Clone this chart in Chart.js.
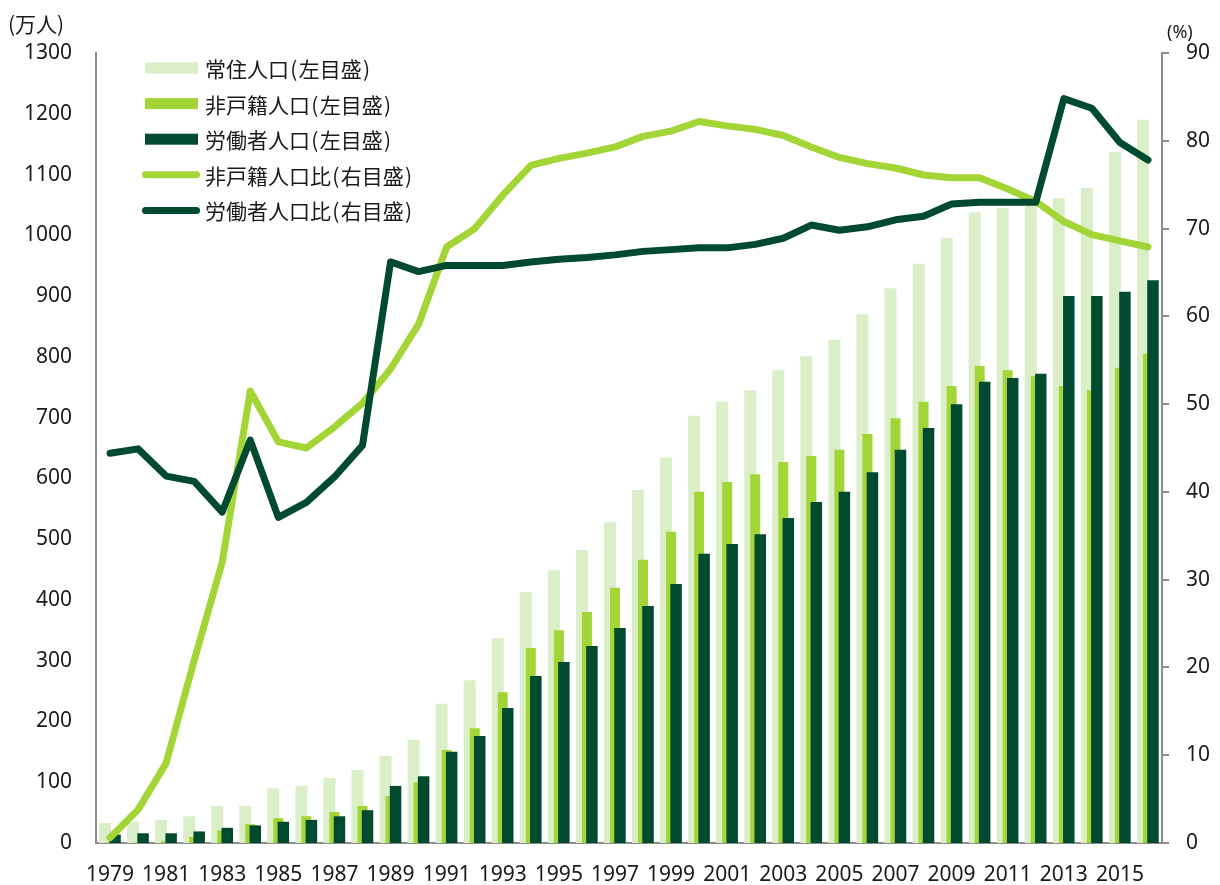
<!DOCTYPE html>
<html>
<head>
<meta charset="utf-8">
<script src="https://cdn.jsdelivr.net/npm/chart.js@4/dist/chart.umd.min.js"></script>
<style>
  html, body { margin: 0; padding: 0; background: #ffffff; }
  #wrap { width: 1220px; height: 885px; }
</style>
</head>
<body>
<div id="wrap"><canvas id="c" width="1220" height="885"></canvas></div>
<script>
// ---- data ----
const years = ['1979','1980','1981','1982','1983','1984','1985','1986','1987','1988','1989','1990',
  '1991','1992','1993','1994','1995','1996','1997','1998','1999','2000','2001','2002','2003','2004',
  '2005','2006','2007','2008','2009','2010','2011','2012','2013','2014','2015','2016'];
const xTickLabels = ['1979','1981','1983','1985','1987','1989','1991','1993','1995','1997','1999',
  '2001','2003','2005','2007','2009','2011','2013','2015'];
const residentPop = [33,35,38,44,61,61,90,94,107,120,143,170,229,268,337,413,449,482,528,581,634,703,
  726,745,778,801,828,870,913,953,996,1038,1045,1055,1061,1078,1137,1190];
const nonHukouPop = [1,1,3,10,21,31,41,44,51,61,77,100,153,189,248,321,350,380,420,466,512,578,
  594,607,627,637,647,673,699,726,752,785,778,768,752,745,782,805];
const workerPop = [14,16,16,19,25,29,35,38,44,54,94,110,150,176,222,275,298,324,354,390,426,476,
  492,508,535,561,578,610,647,683,722,759,765,772,900,900,907,926];
const nonHukouRatio = [0.6,3.8,9.1,20.8,32.0,51.5,45.7,45.0,47.4,50.1,54.0,59.1,67.9,70.0,73.8,77.2,
  78.0,78.6,79.3,80.5,81.1,82.2,81.7,81.3,80.6,79.3,78.1,77.4,76.9,76.1,75.8,75.8,74.5,73.1,70.8,69.3,68.6,67.9];
const workerRatio = [44.4,44.9,41.8,41.2,37.7,45.9,37.1,38.8,41.7,45.3,66.2,65.1,65.8,65.8,65.8,66.2,
  66.5,66.7,67.0,67.4,67.6,67.8,67.8,68.2,68.9,70.4,69.8,70.2,71.0,71.4,72.8,73.0,73.0,73.0,84.8,83.7,79.8,77.8];
const seriesNames = ['常住人口(左目盛)','非戸籍人口(左目盛)','労働者人口(左目盛)','非戸籍人口比(右目盛)','労働者人口比(右目盛)'];
const leftUnit = '(万人)';
const rightUnit = '(%)';

// ---- styles ----
const C_LIGHT = '#daefc8';
const C_GREEN = '#a3d536';
const C_DARK = '#004b30';
const C_AXIS = '#8c8c8c';
const C_TEXT = '#1a1a1a';
const NUM_FONT = "'Noto Sans', 'Liberation Sans', sans-serif";
const CJK_FONT = "'Noto Sans CJK JP', 'Noto Sans', sans-serif";

// draw datasets in a custom stacking order: bars (light, green, dark), then lines
const layerPlugin = {
  id: 'layer',
  beforeDatasetDraw() { return false; },
  afterDatasetsDraw(chart) {
    const ctx = chart.ctx;
    [0, 1, 2, 3, 4].forEach(i => {
      const meta = chart.getDatasetMeta(i);
      if (!meta.visible) return;
      ctx.save();
      meta.controller.draw();
      ctx.restore();
    });
  }
};

// legend label with a little air around the half-width parentheses
function spaced(name) {
  return name.replace('(', '\u200A(\u200A').replace(')', '\u200A)');
}

// custom legend + axis unit labels
const decorPlugin = {
  id: 'decor',
  afterDraw(chart) {
    const ctx = chart.ctx;
    ctx.save();
    ctx.fillStyle = C_TEXT;
    ctx.textBaseline = 'middle';
    ctx.textAlign = 'left';
    ctx.font = "21px " + CJK_FONT;
    ctx.fillText(leftUnit, 8, 24);
    ctx.font = "18px " + NUM_FONT;
    ctx.fillText(rightUnit, 1167, 33);
    const colors = [C_LIGHT, C_GREEN, C_DARK, C_GREEN, C_DARK];
    ctx.font = "21px " + CJK_FONT;
    seriesNames.forEach((name, i) => {
      const y = 68 + 35.6 * i;
      if (i < 3) {
        ctx.fillStyle = colors[i];
        ctx.fillRect(145, y - 5.5, 53, 11);
      } else {
        ctx.strokeStyle = colors[i];
        ctx.lineWidth = 7;
        ctx.lineCap = 'round';
        ctx.beginPath();
        ctx.moveTo(145.5, y);
        ctx.lineTo(196.5, y);
        ctx.stroke();
      }
      ctx.fillStyle = C_TEXT;
      ctx.fillText(spaced(name), 205, y + 1);
    });
    ctx.restore();
  }
};

const CAT_PCT = 0.535;

new Chart(document.getElementById('c'), {
  data: {
    labels: years,
    datasets: [
      { type: 'bar', label: seriesNames[0], data: residentPop, yAxisID: 'y',
        backgroundColor: C_LIGHT, categoryPercentage: CAT_PCT, barPercentage: 2.4 },
      { type: 'bar', label: seriesNames[1], data: nonHukouPop, yAxisID: 'y',
        backgroundColor: C_GREEN, categoryPercentage: CAT_PCT, barPercentage: 2.0 },
      { type: 'bar', label: seriesNames[2], data: workerPop, yAxisID: 'y',
        backgroundColor: C_DARK, categoryPercentage: CAT_PCT, barPercentage: 2.3 },
      { type: 'line', label: seriesNames[3], data: nonHukouRatio, yAxisID: 'y1',
        borderColor: C_GREEN, backgroundColor: C_GREEN, borderWidth: 7, pointRadius: 0,
        borderCapStyle: 'round', borderJoinStyle: 'round', tension: 0, fill: false },
      { type: 'line', label: seriesNames[4], data: workerRatio, yAxisID: 'y1',
        borderColor: C_DARK, backgroundColor: C_DARK, borderWidth: 7, pointRadius: 0,
        borderCapStyle: 'round', borderJoinStyle: 'round', tension: 0, fill: false }
    ]
  },
  options: {
    responsive: false,
    devicePixelRatio: 1,
    animation: false,
    layout: { padding: { top: 53, left: 0, right: 0, bottom: 0 } },
    plugins: { legend: { display: false }, tooltip: { enabled: false } },
    scales: {
      x: {
        type: 'category',
        offset: true,
        grid: { display: false, drawTicks: false },
        border: { display: true, color: C_AXIS, width: 2 },
        ticks: {
          autoSkip: false, maxRotation: 0, minRotation: 0, padding: 19,
          color: C_TEXT, font: { size: 21, family: NUM_FONT },
          callback: function (v) {
            const lab = this.getLabelForValue(v);
            return xTickLabels.includes(lab) ? lab : '';
          }
        },
        afterFit: (s) => { s.height = 42; }
      },
      y: {
        position: 'left', min: 0, max: 1300,
        grid: { display: false, drawTicks: false },
        border: { display: true, color: C_AXIS, width: 2 },
        ticks: { stepSize: 100, padding: 24, color: C_TEXT, font: { size: 21, family: NUM_FONT },
          callback: (v) => String(v) },
        afterFit: (s) => { s.width = 96; }
      },
      y1: {
        position: 'right', min: 0, max: 90,
        grid: { display: true, drawOnChartArea: false, drawTicks: true, tickLength: 7, color: C_AXIS, lineWidth: 2 },
        border: { display: true, color: C_AXIS, width: 2 },
        ticks: { stepSize: 10, padding: 17, color: C_TEXT, font: { size: 21, family: NUM_FONT },
          callback: (v) => String(v) },
        afterFit: (s) => { s.width = 58; }
      }
    }
  },
  plugins: [layerPlugin, decorPlugin]
});
</script>
</body>
</html>
